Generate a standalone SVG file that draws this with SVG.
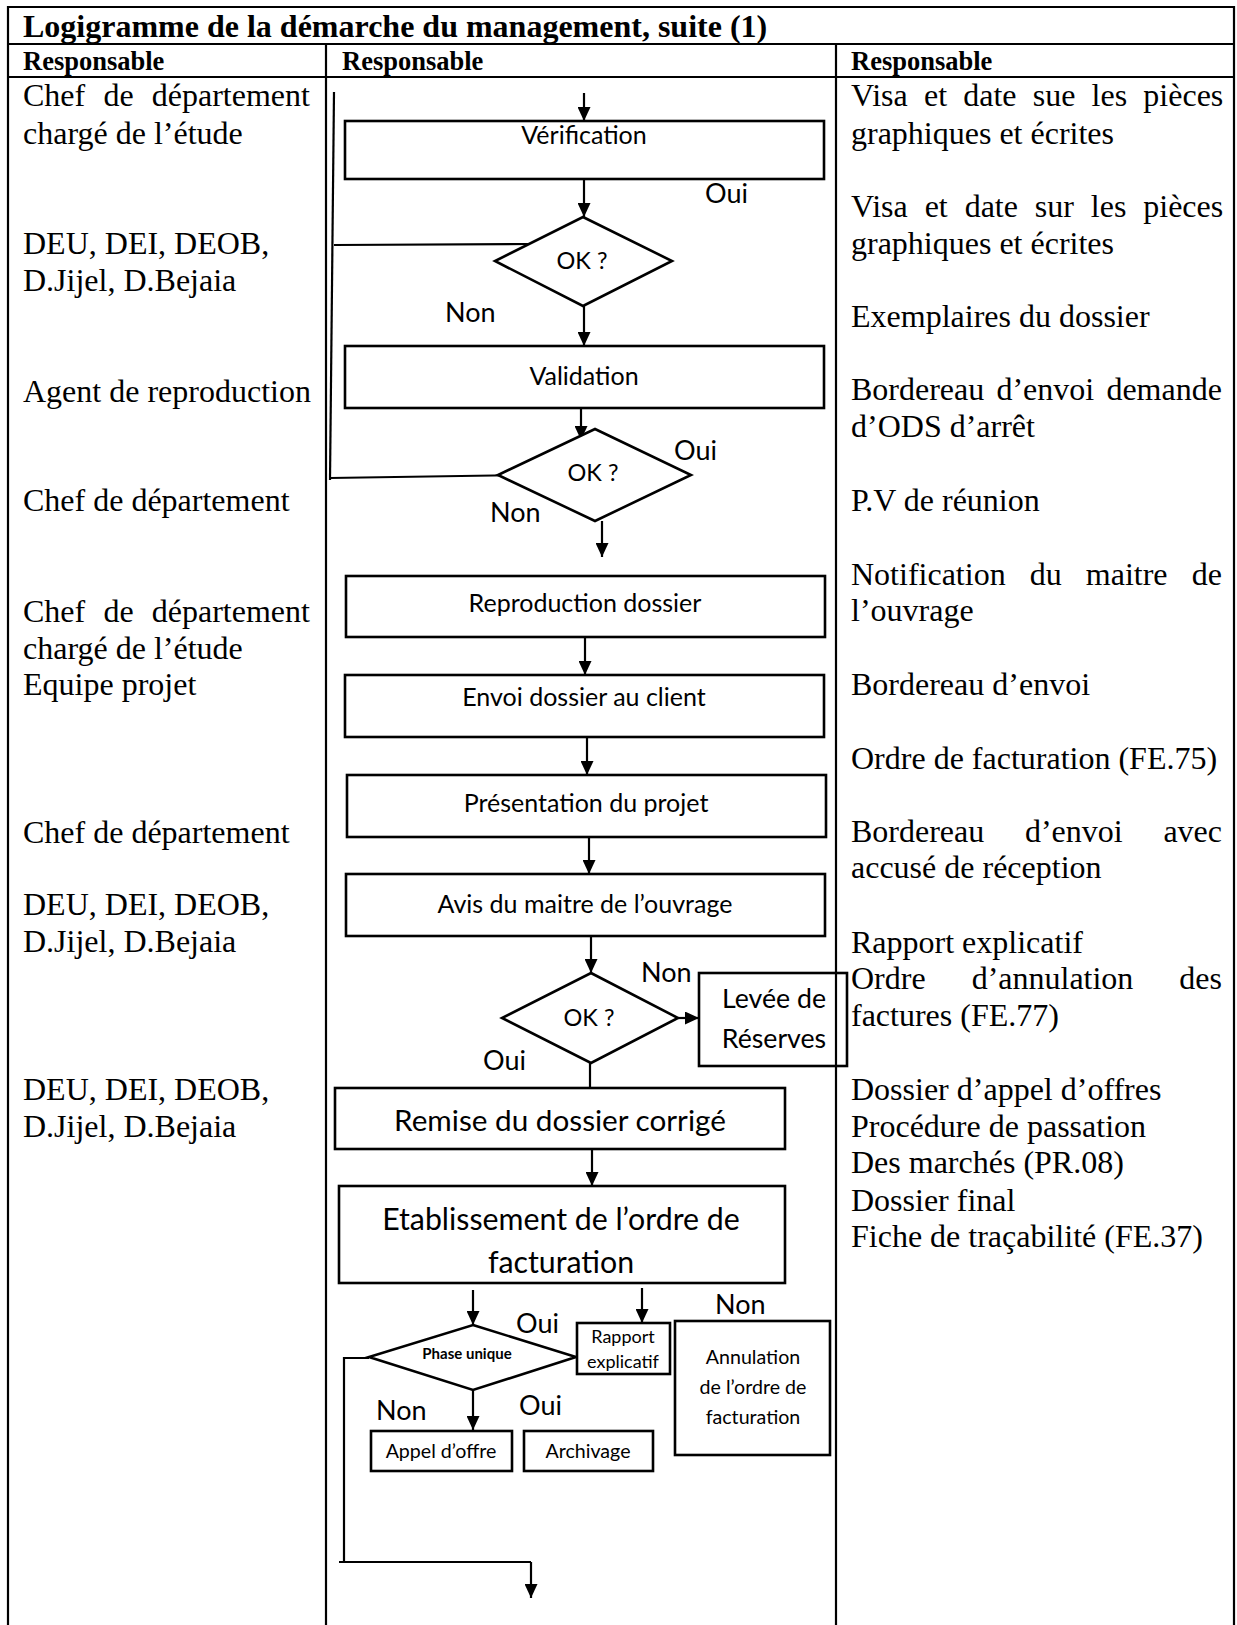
<svg xmlns="http://www.w3.org/2000/svg" width="1237" height="1625" viewBox="0 0 1237 1625">
  <style>
    .frame { stroke: #000; stroke-width: 2.2; fill: none; }
    .title { font-family: "Liberation Serif", "Times New Roman", serif; font-weight: bold; font-size: 32px; fill: #000; }
    .head { font-family: "Liberation Serif", "Times New Roman", serif; font-weight: bold; font-size: 26.5px; fill: #000; }
    .lane { font-family: "Liberation Serif", "Times New Roman", serif; font-size: 32px; fill: #000; }
    .box { fill: #fff; stroke: #000; stroke-width: 2.6; }
    .dia { fill: #fff; stroke: #000; stroke-width: 2.6; }
    .lbl { font-family: Lato, "Liberation Sans", sans-serif; font-size: 25px; fill: #000; text-anchor: middle; }
    .ok { font-size: 23.5px; }
    .big { font-size: 30.3px; }
    .remise { font-size: 29.7px; }
    .levee { font-size: 26.7px; }
    .phase { font-size: 15px; font-weight: bold; }
    .rapport { font-size: 18px; }
    .small { font-size: 19.6px; }
    .yn { font-family: Lato, "Liberation Sans", sans-serif; font-size: 27px; fill: #000; }
    .conn line, .conn polyline { stroke: #000; stroke-width: 2.2; fill: none; }
    .arr { marker-end: url(#head); }
  </style>
  <defs>
    <marker id="head" viewBox="0 0 14 13" refX="14" refY="6.5" markerWidth="14" markerHeight="13" markerUnits="userSpaceOnUse" orient="auto">
      <path d="M0,0 L14,6.5 L0,13 z" fill="#000"/>
    </marker>
  </defs>
  <rect width="1237" height="1625" fill="#fff"/>

  <!-- table frame -->
  <g id="table">
    <path class="frame" d="M8,1625 V7 H1234 V1625"/>
    <line class="frame" x1="8" y1="44" x2="1234" y2="44"/>
    <line class="frame" x1="8" y1="77" x2="1234" y2="77"/>
    <line class="frame" x1="326" y1="44" x2="326" y2="1625"/>
    <line class="frame" x1="836" y1="44" x2="836" y2="1625"/>
    <text class="title" x="23" y="37">Logigramme de la démarche du management, suite (1)</text>
    <text class="head" x="23" y="70">Responsable</text>
    <text class="head" x="342" y="70">Responsable</text>
    <text class="head" x="851" y="70">Responsable</text>
  </g>

  <!-- left column: responsibles -->
  <g id="lane-left" class="lane">
    <text x="23" y="106" word-spacing="10.2">Chef de département</text>
    <text x="23" y="144">chargé de l’étude</text>
    <text x="23" y="254">DEU, DEI, DEOB,</text>
    <text x="23" y="291">D.Jijel, D.Bejaia</text>
    <text x="23" y="402">Agent de reproduction</text>
    <text x="23" y="511">Chef de département</text>
    <text x="23" y="622" word-spacing="10.2">Chef de département</text>
    <text x="23" y="659">chargé de l’étude</text>
    <text x="23" y="695">Equipe projet</text>
    <text x="23" y="843">Chef de département</text>
    <text x="23" y="915">DEU, DEI, DEOB,</text>
    <text x="23" y="952">D.Jijel, D.Bejaia</text>
    <text x="23" y="1100">DEU, DEI, DEOB,</text>
    <text x="23" y="1137">D.Jijel, D.Bejaia</text>
  </g>

  <!-- right column: documents -->
  <g id="lane-right" class="lane">
    <text x="851" y="106" word-spacing="8.2">Visa et date sue les pièces</text>
    <text x="851" y="144">graphiques et écrites</text>
    <text x="851" y="217" word-spacing="8.9">Visa et date sur les pièces</text>
    <text x="851" y="254">graphiques et écrites</text>
    <text x="851" y="327">Exemplaires du dossier</text>
    <text x="851" y="400" word-spacing="4.2">Bordereau d’envoi demande</text>
    <text x="851" y="437">d’ODS d’arrêt</text>
    <text x="851" y="511">P.V de réunion</text>
    <text x="851" y="585" word-spacing="16.1">Notification du maitre de</text>
    <text x="851" y="621">l’ouvrage</text>
    <text x="851" y="695">Bordereau d’envoi</text>
    <text x="851" y="769">Ordre de facturation (FE.75)</text>
    <text x="851" y="842" word-spacing="32.7">Bordereau d’envoi avec</text>
    <text x="851" y="878">accusé de réception</text>
    <text x="851" y="953">Rapport explicatif</text>
    <text x="851" y="989" word-spacing="38">Ordre d’annulation des</text>
    <text x="851" y="1026">factures (FE.77)</text>
    <text x="851" y="1100">Dossier d’appel d’offres</text>
    <text x="851" y="1137">Procédure de passation</text>
    <text x="851" y="1173">Des marchés (PR.08)</text>
    <text x="851" y="1211">Dossier final</text>
    <text x="851" y="1247">Fiche de traçabilité (FE.37)</text>
  </g>

  <!-- connectors -->
  <g id="connectors" class="conn">
    <line class="arr" x1="584" y1="93" x2="584" y2="121"/>
    <line class="arr" x1="584" y1="179" x2="584" y2="217"/>
    <line class="arr" x1="584" y1="306" x2="584" y2="346"/>
    <line class="arr" x1="581" y1="408" x2="581" y2="440"/>
    <line class="arr" x1="602" y1="521" x2="602" y2="557"/>
    <line class="arr" x1="585" y1="637" x2="585" y2="675"/>
    <line class="arr" x1="587" y1="737" x2="587" y2="775"/>
    <line class="arr" x1="589" y1="837" x2="589" y2="874"/>
    <line class="arr" x1="591" y1="936" x2="591" y2="973"/>
    <line class="arr" x1="678" y1="1018" x2="699" y2="1018"/>
    <line x1="590" y1="1063" x2="590" y2="1088"/>
    <line class="arr" x1="592" y1="1149" x2="592" y2="1186"/>
    <line class="arr" x1="473" y1="1290" x2="473" y2="1325"/>
    <line class="arr" x1="642" y1="1288" x2="642" y2="1323"/>
    <line class="arr" x1="473" y1="1390" x2="473" y2="1430"/>
    <!-- return paths on the left -->
    <line x1="334" y1="92" x2="330" y2="480"/>
    <line x1="334" y1="245" x2="529" y2="244"/>
    <line x1="330" y1="478" x2="527" y2="475"/>
    <polyline points="369,1358 344,1358 344,1562"/>
    <line x1="339" y1="1562" x2="531" y2="1562"/>
    <line class="arr" x1="531" y1="1562" x2="531" y2="1598"/>
  </g>

  <!-- flowchart nodes -->
  <g id="verification">
    <rect class="box" x="345" y="121" width="479" height="58"/>
    <text class="lbl" x="584" y="144">Vérification</text>
  </g>
  <g id="ok-1">
    <polygon class="dia" points="583,217 672,261 583,306 495,261"/>
    <text class="lbl ok" x="582" y="269">OK ?</text>
  </g>
  <g id="validation">
    <rect class="box" x="345" y="346" width="479" height="62"/>
    <text class="lbl" x="584" y="385">Validation</text>
  </g>
  <g id="ok-2">
    <polygon class="dia" points="595,429 691,475 595,521 498,475"/>
    <text class="lbl ok" x="593" y="481">OK ?</text>
  </g>
  <g id="reproduction">
    <rect class="box" x="346" y="576" width="479" height="61"/>
    <text class="lbl" x="585" y="612">Reproduction dossier</text>
  </g>
  <g id="envoi">
    <rect class="box" x="345" y="675" width="479" height="62"/>
    <text class="lbl" x="584" y="706">Envoi dossier au client</text>
  </g>
  <g id="presentation">
    <rect class="box" x="347" y="775" width="479" height="62"/>
    <text class="lbl" x="586" y="812">Présentation du projet</text>
  </g>
  <g id="avis">
    <rect class="box" x="346" y="874" width="479" height="62"/>
    <text class="lbl" x="585" y="913">Avis du maitre de l’ouvrage</text>
  </g>
  <g id="ok-3">
    <polygon class="dia" points="591,973 678,1018 591,1063 502,1018"/>
    <text class="lbl ok" x="589" y="1026">OK ?</text>
  </g>
  <g id="levee">
    <rect class="box" x="699" y="973" width="148" height="93" style="fill:none"/>
    <text class="lbl levee" x="774" y="1008">Levée de</text>
    <text class="lbl levee" x="774" y="1048">Réserves</text>
  </g>
  <g id="remise">
    <rect class="box" x="335" y="1088" width="450" height="61"/>
    <text class="lbl remise" x="560" y="1131">Remise du dossier corrigé</text>
  </g>
  <g id="etablissement">
    <rect class="box" x="339" y="1186" width="446" height="97"/>
    <text class="lbl big" x="561" y="1230">Etablissement de l’ordre de</text>
    <text class="lbl big" x="561" y="1273">facturation</text>
  </g>
  <g id="phase-unique">
    <polygon class="dia" points="473,1325 576,1357 473,1390 369,1357"/>
    <text class="lbl phase" x="467" y="1359">Phase unique</text>
  </g>
  <g id="rapport">
    <rect class="box" x="577" y="1323" width="93" height="51"/>
    <text class="lbl rapport" x="623" y="1343">Rapport</text>
    <text class="lbl rapport" x="623" y="1368">explicatif</text>
  </g>
  <g id="annulation">
    <rect class="box" x="675" y="1321" width="155" height="134"/>
    <text class="lbl small" x="753" y="1364">Annulation</text>
    <text class="lbl small" x="753" y="1394">de l’ordre de</text>
    <text class="lbl small" x="753" y="1424">facturation</text>
  </g>
  <g id="appel-offre">
    <rect class="box" x="371" y="1431" width="141" height="40"/>
    <text class="lbl small" x="441" y="1458">Appel d’offre</text>
  </g>
  <g id="archivage">
    <rect class="box" x="524" y="1431" width="129" height="40"/>
    <text class="lbl small" x="588" y="1458">Archivage</text>
  </g>

  <!-- branch labels -->
  <g id="branch-labels" class="yn">
    <text x="705" y="203">Oui</text>
    <text x="445" y="322">Non</text>
    <text x="674" y="460">Oui</text>
    <text x="490" y="522">Non</text>
    <text x="641" y="982">Non</text>
    <text x="483" y="1070">Oui</text>
    <text x="516" y="1333">Oui</text>
    <text x="715" y="1314">Non</text>
    <text x="376" y="1420">Non</text>
    <text x="519" y="1415">Oui</text>
  </g>
</svg>
